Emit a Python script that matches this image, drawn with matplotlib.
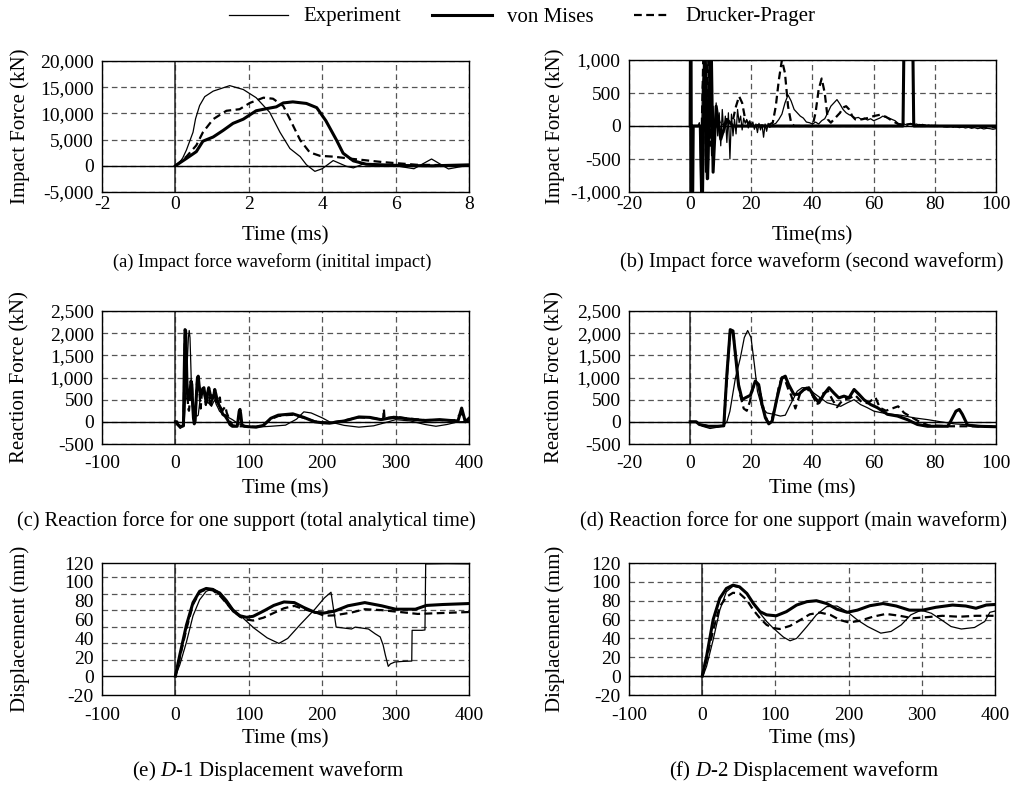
import numpy as np
import matplotlib
matplotlib.use('Agg')
import matplotlib.pyplot as plt
from matplotlib.ticker import MultipleLocator, FixedLocator, FuncFormatter
from matplotlib.lines import Line2D

plt.rcParams['font.family'] = ['Liberation Serif', 'DejaVu Serif']
plt.rcParams['mathtext.fontset'] = 'custom'
plt.rcParams['mathtext.rm'] = 'Liberation Serif'
plt.rcParams['mathtext.it'] = 'Liberation Serif:italic'
plt.rcParams['axes.unicode_minus'] = False

# ---- (a) impact force, initial impact (ms, kN)
a_exp_t = [0, 0.1, 0.2, 0.3, 0.48, 0.55, 0.66, 0.8, 1.03, 1.48, 1.85, 2.2, 2.57, 2.85, 3.12, 3.4, 3.57, 3.8,
           4.0, 4.3, 4.66, 4.85, 5.1, 5.66, 6.0, 6.5, 6.98, 7.44, 7.94, 8.1]
a_exp = [0, 500, 1500, 3000, 6400, 9000, 11500, 13200, 14250, 15300, 14560, 13000, 10200, 6400, 3300, 1750,
         200, -1060, -560, 1000, -100, -400, 300, 50, 0, -560, 1300, -600, 50, 0]
a_vm_t = [0, 0.3, 0.57, 0.75, 1.03, 1.3, 1.57, 1.85, 2.2, 2.48, 2.75, 2.94, 3.2, 3.57, 3.85, 4.1,
          4.39, 4.57, 4.85, 5.2, 6.1, 7.0, 8.1]
a_vm = [0, 1400, 2700, 4700, 5500, 6750, 8100, 8900, 10500, 10900, 11250, 12000, 12200, 11900, 11100, 8600,
        4900, 2400, 940, 300, 60, 0, 200]
a_dp_t = [0, 0.3, 0.57, 0.75, 1.03, 1.39, 1.75, 2.03, 2.4, 2.66, 2.94, 3.12, 3.4, 3.66, 3.94, 4.3,
          4.85, 5.66, 6.57, 8.1]
a_dp = [0, 1750, 3900, 6400, 8900, 10500, 10800, 12000, 13000, 12800, 11400, 8900, 4900, 2560, 1900, 1750,
        1300, 700, 200, 50]

# ---- (b) impact force, second waveform
b_vm_t = [0, 0.2, 0.5, 1.0, 3.5, 3.9, 4.8, 5.6, 6.8, 7.5, 8.5, 10, 12, 14, 69.6, 70.2, 72.5, 73.1, 100]
b_vm = [0, 3000, -3000, 0, 0, -1500, 1500, -800, 1500, -700, 300, -200, 100, 0, 0, 2500, 2500, 0, 0]
b_exp_t = [2.0, 2.5, 3.0, 3.5, 4.0, 4.5, 5.0, 5.5, 6.0, 6.5,
           7.0, 7.5, 8.0, 8.5, 9.0, 9.5, 10.0, 10.5, 11.0, 11.5,
           12.0, 12.5, 13.0, 13.5, 14.0, 14.5, 15.0, 15.5, 16.0, 16.5,
           17.0, 17.5, 18.0, 18.5, 19.0, 19.5, 20.0, 20.5, 21.0, 21.5,
           22.0, 22.5, 23.0, 23.5, 24.0, 24.5, 25.0, 25.5, 26.0,
           27, 28, 29, 30, 31, 32, 33, 34, 35, 36,
           37, 38, 39, 40, 41, 42, 43, 44, 45, 46,
           47, 48, 49, 50, 51, 52, 53, 54, 55, 56,
           57, 58, 59, 60, 61, 62, 63, 64, 65, 66,
           67, 68, 69, 70, 71, 72, 73, 74, 75, 76,
           77, 78, 79, 80, 81, 82, 83, 84, 85, 86,
           87, 88, 89, 90, 91, 92, 93, 94, 95, 96,
           97, 98, 99, 100]
b_exp = [0, 0, 50, -1200, 600, 900, -700, 700, -800, 400,
         -450, 300, -200, 350, -150, 200, -300, 250, -100, 150,
         -250, 200, -500, 180, -150, 100, -120, 250, 50, 150,
         -60, 120, 40, 100, -30, 80, 0, 60, -50, 30,
         -100, 40, -60, 20, -170, 30, -80, 40, -20,
         20, 40, 100, 180, 350, 470, 380, 250, 200, 150,
         120, 60, 50, 30, 60, 30, 80, 110, 200, 300,
         350, 400, 330, 250, 200, 170, 150, 120, 130, 100,
         120, 90, 110, 80, 100, 120, 150, 130, 120, 100,
         80, 40, 20, 30, 10, 40, 20, 30, 10, 25,
         5, 15, 0, 10, -5, 5, -10, -15, -5, -20,
         -10, -25, -15, -30, -20, -35, -25, -40, -30, -45,
         -35, -40, -50, -40]
b_dp_t = [0, 3.8, 4.5, 5.2, 5.8, 6.5, 7, 8, 9, 10, 12, 14, 15, 16, 17, 18, 19, 20, 25, 27,
          28, 29, 30, 31, 32, 33, 34, 40, 41, 42, 43, 44, 45, 46, 47, 48, 49, 50, 51, 52,
          53, 54, 56, 58, 60, 62, 64, 66, 68, 70, 72, 74, 76, 80, 100]
b_dp = [0, 0, 1500, -600, 1200, -300, 300, -100, 150, 0, 50, 100, 300, 450, 350, 100, 50, 20, 0, 50,
        300, 700, 1000, 800, 300, 50, 0, 0, 200, 550, 720, 500, 100, 50, 100, 150, 200, 280, 300, 250,
        150, 100, 100, 120, 150, 170, 140, 80, 30, 20, 30, 20, 10, 0, -20]

# ---- (d) reaction force, main waveform (0-100 ms)
d_exp_t = [0, 2, 4, 6.5, 9, 11, 12, 13, 14.8, 16.4, 17.7, 18.8, 19.9, 21, 22, 23.5, 25.1, 27.3, 29.5, 31.1,
           32.8, 35, 36.6, 38.8, 40.4, 42.6, 44.8, 47, 49.2, 51.4, 53.6, 55.7, 57.9, 60.1, 64.5, 68.9, 73.2,
           77.6, 82, 86.3, 92.9, 100]
d_exp = [0, 0, -100, -150, -120, -75, 0, 240, 990, 1440, 1900, 2060, 1900, 1290, 690, 320, 200, 170, 130, 150,
         390, 690, 770, 770, 650, 540, 430, 390, 350, 430, 500, 390, 320, 240, 180, 150, 90,
         50, 0, -45, -75, -110]
d_vm_t = [0, 2, 3, 6, 9, 11, 12, 13.1, 14, 14.8, 15.8, 17, 18, 19.7, 21.3, 22.4, 23.5, 24.6, 25.7, 26.8,
          28.4, 30, 31.1, 32.2, 33.9, 35.5, 37.2, 38.8, 40.4, 42.1, 43.7, 45.4, 47, 48.6, 50.3, 51.9, 53.6,
          55.2, 56.8, 59, 61.2, 64.5, 67.8, 71, 74.3, 77.6, 84.2, 85.2, 86.9, 88, 89, 90.7, 94, 100]
d_vm = [0, 0, -60, -100, -100, -90, 1070, 2080, 2050, 1520, 840, 500, 540, 600, 920, 840, 390, 90, -45, 15,
        540, 990, 1030, 840, 620, 620, 730, 770, 580, 430, 620, 770, 650, 540, 580, 540, 730,
        620, 500, 390, 320, 170, 130, 50, -60, -100, -100, 15, 240, 280, 170, -75, -100, -110]
d_dp_t = [0, 2, 3, 6, 9, 11, 12, 13, 14, 15, 16, 17.5, 18.5, 19.5, 20.5, 21.5, 22.5, 23.5, 24.5, 25.5,
          26.5, 28, 29, 30, 31, 32, 33, 34.4, 36, 38, 40, 41.5, 43, 45, 46.5, 48, 50, 52, 54, 56,
          58, 60.6, 62, 64, 66, 68, 70, 72, 75, 78, 85, 92, 100]
d_dp = [0, 0, -60, -100, -100, -90, 1000, 2000, 2050, 1400, 700, 300, 250, 450, 750, 900, 800, 450, 150, -20,
        0, 400, 800, 1000, 950, 750, 600, 300, 650, 770, 600, 380, 620, 700, 500, 330, 500, 530, 600, 450,
        420, 550, 320, 250, 300, 350, 200, 120, 0, -80, -100, -100, -110]

# ---- (c) reaction force, rest of the analytical time (100-400 ms)
c_exp_t = [110, 130, 150, 165, 175, 185, 200, 210, 230, 250, 270, 290, 300, 320, 340, 355, 370, 385, 400]
c_exp = [-120, -100, -75, 60, 225, 200, 90, 0, -80, -120, -90, 0, 50, 20, -60, -100, -60, 0, 10]
c_vm_t = [110, 120, 130, 140, 150, 160, 175, 190, 200, 210, 230, 250, 265, 280, 290, 300, 310, 320, 340,
          360, 375, 385, 390, 395, 400]
c_vm = [-120, -80, 80, 150, 165, 180, 100, 0, -20, -30, 20, 110, 100, 50, 80, 100, 80, 60, 30,
        50, 30, 20, 310, 0, 80]
c_dp_t = [110, 120, 130, 140, 150, 160, 175, 190, 200, 210, 230, 250, 265, 280, 283, 284, 285, 290, 300,
          310, 320, 340, 360, 380, 390, 395, 400]
c_dp = [-110, -70, 60, 130, 150, 160, 90, 10, -10, -20, 30, 100, 90, 60, 60, 290, 60, 90, 120,
        90, 70, 40, 40, 30, 200, 20, 60]

# ---- (e) D-1 displacement (mm)
e_exp_t = [0, 6, 15, 24, 33, 42, 51, 61, 70, 79, 93, 107, 125, 141, 153, 171, 190, 203, 212, 219,
           240, 245, 263, 272, 279, 283, 286, 290, 293, 299, 309, 322, 322.5, 336, 340, 341, 370, 400]
e_exp = [0, 12, 36, 64, 81, 90, 92.6, 89, 81, 71, 61, 51, 40.6, 34.7, 40, 55.5, 71, 83, 89, 52,
         50, 52, 50, 45, 41.6, 33, 22.5, 10.4, 13, 15, 15.6, 16, 48.6, 48.6, 49, 119, 119.3, 119]
e_vm_t = [0, 6, 15, 24, 33, 42, 51, 61, 70, 79, 88, 97, 106, 120, 134, 148, 162, 175, 190, 203, 217,
          235, 258, 281, 300, 327, 342, 365, 400]
e_vm = [0, 22.5, 54, 78, 90, 93, 92, 87, 78, 69, 64, 62.4, 63.5, 69, 75, 78.7, 78, 72.8, 67.6, 67, 69,
        74.6, 78, 74.6, 71, 71, 75, 76, 77]
e_dp_t = [0, 6, 15, 24, 33, 42, 51, 61, 70, 79, 88, 97, 106, 120, 134, 148, 162, 175, 190, 203, 217,
          240, 258, 281, 300, 330, 365, 400]
e_dp = [0, 20, 50, 76, 89, 92, 91, 85, 77, 69, 63, 60, 59, 62, 67, 72, 74.5, 71, 68, 64, 64.5,
        67.5, 71, 70, 68.5, 66, 67, 68]

# ---- (f) D-2 displacement (mm)
f_exp_t = [1, 6, 15, 24, 33, 42, 51, 61, 70, 79, 88, 97, 111, 120, 129, 143, 156, 170, 184, 198, 212,
           226, 244, 258, 272, 285, 299, 313, 327, 340, 354, 372, 386, 393, 400]
f_exp = [0, 10.5, 38.6, 70, 89.5, 95.4, 94, 87.7, 77, 66.7, 58, 51, 41.4, 37.5, 40, 52.6, 65, 73.7, 74.4,
         68.4, 59.6, 52.6, 45.6, 47.4, 54.4, 65, 70, 66.7, 59.6, 52.6, 50, 51.6, 58, 67.7, 69]
f_vm_t = [0, 6, 15, 24, 33, 42, 51, 61, 70, 79, 88, 101, 115, 129, 143, 156, 170, 184, 198, 212, 229,
          247, 265, 283, 301, 319, 342, 360, 374, 388, 400]
f_vm = [0, 21, 60, 82.5, 93, 96.5, 94.7, 87.7, 77, 68.4, 65, 64, 68.4, 75.4, 79, 80, 77, 71, 67.7, 70,
        74.7, 77, 74.4, 70, 70, 73, 75.4, 74.4, 72, 75.4, 76]
f_dp_t = [0, 6, 15, 24, 33, 42, 51, 61, 70, 79, 88, 97, 106, 120, 134, 147, 161, 175, 188, 200, 215,
          233, 251, 270, 288, 306, 328, 351, 374, 400]
f_dp = [0, 17.5, 49, 73.7, 84, 88.4, 87.7, 80.7, 70, 61.4, 54.4, 51, 50, 53.3, 59.6, 65.6, 67.4, 65,
        59.6, 57, 58.6, 63, 66, 64, 61.4, 62.5, 64, 63, 64, 64]

thin = dict(color='black', lw=0.9)
thick = dict(color='black', lw=2.2)
dash = dict(color='black', lw=1.6, ls=(0, (3.5, 2)))

fig = plt.figure(figsize=(10.14, 7.86), dpi=100)

W, H = 1014.0, 786.0


def make_ax(left, top, right, bottom):
    return fig.add_axes([left / W, 1 - bottom / H, (right - left) / W, (bottom - top) / H])


def style(ax, xlim, xstep, ylim, ystep, xlabel, ylabel, ylabx, xpad=3, ygrid=None):
    ax.set_xlim(*xlim)
    ax.set_ylim(*ylim)
    ax.xaxis.set_major_locator(MultipleLocator(xstep))
    ax.yaxis.set_major_locator(MultipleLocator(ystep))
    ax.yaxis.set_major_formatter(FuncFormatter(lambda v, p: f"{v:,.0f}"))
    ax.set_axisbelow(True)
    gkw = dict(color='#555555', lw=0.9, ls=(0, (4.5, 3)))
    ax.grid(True, axis='x', **gkw)
    if ygrid is None:
        ax.grid(True, axis='y', **gkw)
    else:
        # this panel's dashed grid does not sit on the labelled ticks
        ax.yaxis.set_minor_locator(FixedLocator(ygrid))
        ax.grid(True, axis='y', which='minor', **gkw)
    ax.axhline(0, color='black', lw=1.0, zorder=1.5)
    ax.axvline(0, color='#222222', lw=1.1, zorder=1.5)
    ax.tick_params(which='both', length=0, labelsize=14)
    ax.tick_params(axis='x', pad=xpad)
    ax.tick_params(axis='y', pad=6)
    for s in ax.spines.values():
        s.set_linewidth(1.0)
    ax.set_xlabel(xlabel, fontsize=15, va='center')
    ax.xaxis.set_label_coords(0.5, -0.335)
    ax.set_ylabel(ylabel, fontsize=15, va='center')
    ax.yaxis.set_label_coords(ylabx, 0.5)


# (a)
ax = make_ax(102, 61, 469, 192)
ax.plot(a_exp_t, a_exp, **thin)
ax.plot(a_vm_t, a_vm, **thick)
ax.plot(a_dp_t, a_dp, **dash)
style(ax, (-2, 8), 2, (-5000, 20000), 5000, 'Time (ms)', 'Impact Force (kN)', (20 - 102) / 367)

# (b)
ax = make_ax(629, 60, 996, 192)
ax.plot(b_exp_t, b_exp, **thin)
ax.plot(b_vm_t, b_vm, **thick)
ax.plot(b_dp_t, b_dp, **dash)
style(ax, (-20, 100), 20, (-1000, 1000), 500, 'Time(ms)', 'Impact Force (kN)', (555 - 629) / 367)

# (c) full analytical time = main waveform + remainder
ax = make_ax(102, 311, 469, 444)
ax.plot(d_exp_t + c_exp_t, d_exp + c_exp, **thin)
ax.plot(d_vm_t + c_vm_t, d_vm + c_vm, **thick)
ax.plot(d_dp_t + c_dp_t, d_dp + c_dp, **dash)
style(ax, (-100, 400), 100, (-500, 2500), 500, 'Time (ms)', 'Reaction Force (kN)', (20 - 102) / 367,
      xpad=8)

# (d)
ax = make_ax(629, 311, 996, 444)
ax.plot(d_exp_t, d_exp, **thin)
ax.plot(d_vm_t, d_vm, **thick)
ax.plot(d_dp_t, d_dp, **dash)
style(ax, (-20, 100), 20, (-500, 2500), 500, 'Time (ms)', 'Reaction Force (kN)', (555 - 629) / 367,
      xpad=8)

# (e)
ax = make_ax(102, 563, 469, 695)
ax.plot(e_exp_t, e_exp, **thin)
ax.plot(e_vm_t, e_vm, **thick)
ax.plot(e_dp_t, e_dp, **dash)
style(ax, (-100, 400), 100, (-20, 120), 20, 'Time (ms)', 'Displacement (mm)', (20 - 102) / 367,
      xpad=9, ygrid=[17.5, 35, 52.5, 70, 87.5, 105])

# (f)
ax = make_ax(629, 563, 995, 695)
ax.plot(f_exp_t, f_exp, **thin)
ax.plot(f_vm_t, f_vm, **thick)
ax.plot(f_dp_t, f_dp, **dash)
style(ax, (-100, 400), 100, (-20, 120), 20, 'Time (ms)', 'Displacement (mm)', (555 - 629) / 366,
      xpad=9)

captions = [
    (272, 262, 13.2, '(a) Impact force waveform (initital impact)'),
    (812, 262, 14.7, '(b) Impact force waveform (second waveform)'),
    (246, 521, 14.8, '(c) Reaction force for one support (total analytical time)'),
    (794, 521, 14.8, '(d) Reaction force for one support (main waveform)'),
    (268, 771, 15.0, r'(e) $\mathit{D}$-1 Displacement waveform'),
    (804, 771, 15.0, r'(f) $\mathit{D}$-2 Displacement waveform'),
]
for cx, cy, fs, txt in captions:
    fig.text(cx / W, 1 - cy / H, txt, ha='center', va='center', fontsize=fs)

# legend row across the top
legend_items = [
    (229, 288, thin, 'Experiment'),
    (432, 492, thick, 'von Mises'),
    (634, 670, dash, 'Drucker-Prager'),
]
ly = 1 - 15 / H
for x0, x1, kw, label in legend_items:
    fig.add_artist(Line2D([x0 / W, x1 / W], [ly, ly], transform=fig.transFigure, **kw))
    fig.text((x1 + 15) / W, 1 - 17 / H, label, ha='left', va='center', fontsize=15)

fig.savefig('out.png', dpi=100)
